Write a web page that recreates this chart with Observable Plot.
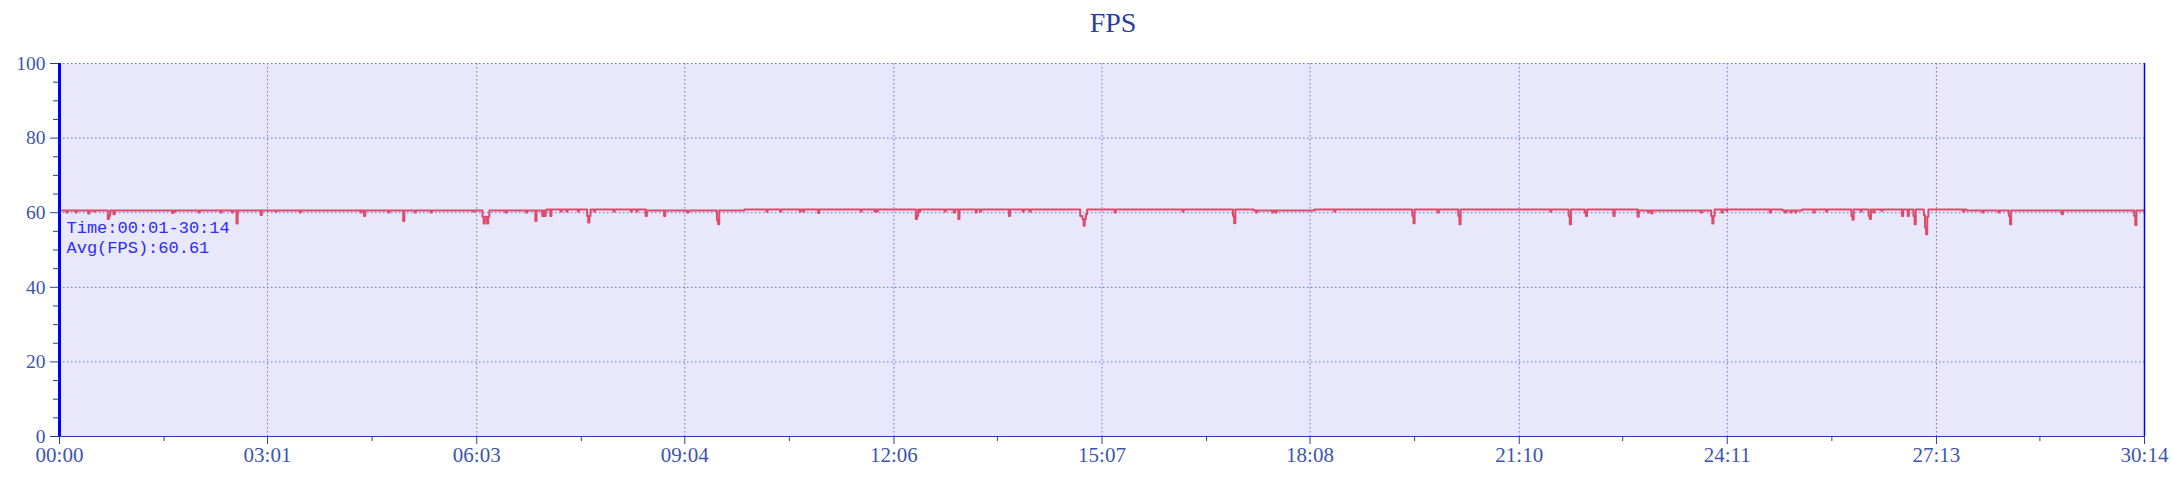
<!DOCTYPE html>
<html>
<head>
<meta charset="utf-8">
<script src="https://cdn.jsdelivr.net/npm/d3@7"></script>
<script src="https://cdn.jsdelivr.net/npm/@observablehq/plot@0.6"></script>
<style>
  body { margin: 0; background: #ffffff; }
  #title {
    width: 2172px; height: 45px; box-sizing: border-box; padding-left: 54px;
    text-align: center; line-height: 45px;
    font-family: "Liberation Serif", "DejaVu Serif", serif; font-size: 28px; color: #2a3f9c;
  }
</style>
</head>
<body>
<div id="title">FPS</div>
<div id="chart"></div>
<script>
// ---- data (seconds since start, FPS) ----
const sec = [
  0, 6, 7, 14, 15, 25, 26, 30, 31, 42, 43, 44, 47, 48, 98, 99, 100, 101, 121, 122,
  140, 141, 150, 151, 154, 155, 175, 176, 188, 189, 209, 210, 262, 263, 265, 266, 286, 287, 299, 300,
  309, 310, 323, 324, 360, 361, 368, 369, 370, 371, 372, 373, 374, 388, 389, 406, 407, 414, 415,
  420, 421, 422, 423, 424, 427, 428, 436, 437, 441, 442, 451, 452, 459, 460, 461, 462, 465, 466,
  482, 483, 497, 498, 502, 503, 510, 511, 526, 527, 546, 547, 548, 572, 573, 574, 596,
  615, 616, 627, 628, 644, 645, 647, 648, 660, 661, 697, 698, 709, 710, 711, 712,
  745, 746, 747, 748, 749, 770, 771, 778, 779, 782, 783, 797, 798, 801, 802, 826, 827,
  838, 839, 844, 845, 888, 889, 890, 891, 892, 893, 894, 918, 919, 977, 978,
  1021, 1022, 1023, 1039, 1041, 1042, 1055, 1056, 1058, 1059, 1092, 1109, 1110,
  1177, 1178, 1179, 1199, 1200, 1217, 1218, 1219, 1297, 1298, 1313, 1314, 1315,
  1327, 1328, 1329, 1352, 1353, 1373, 1374, 1382, 1383, 1385, 1386, 1428, 1429,
  1437, 1438, 1439, 1440, 1446, 1447, 1450, 1451, 1488, 1489, 1499, 1501, 1502,
  1506, 1507, 1510, 1511, 1516, 1526, 1527, 1537, 1538, 1559, 1560, 1561, 1567, 1568,
  1574, 1575, 1576, 1578, 1579, 1585, 1586, 1603, 1604, 1608, 1609, 1613, 1614, 1615,
  1622, 1623, 1624, 1625, 1626, 1656, 1657, 1659, 1673, 1674, 1687, 1688,
  1696, 1697, 1698, 1742, 1743, 1805, 1806, 1807, 1814
];
const fps = [
  60.6, 60.05, 60.6, 60.05, 60.6, 59.8, 60.6, 60.3, 60.6, 58.3, 59.1, 60.6, 59.6, 60.6, 59.9, 60.6, 60.3, 60.6, 60.05, 60.6,
  60.05, 60.6, 60.05, 60.6, 57.1, 60.6, 59.4, 60.6, 60.3, 60.6, 60.05, 60.6, 60.05, 60.6, 59.1, 60.6, 60.05, 60.6, 57.8, 60.6,
  60.05, 60.6, 60.05, 60.6, 60.3, 60.6, 58.9, 57.1, 58.9, 58.9, 57.1, 58.9, 60.6, 60.05, 60.6, 60.05, 60.6, 57.8, 60.6,
  59.1, 60.6, 59.1, 60.6, 60.85, 59.1, 60.85, 60.3, 60.85, 60.3, 60.85, 60.3, 60.85, 59.1, 57.4, 59.1, 60.85, 60.3, 60.85,
  60.3, 60.85, 60.3, 60.85, 60.3, 60.85, 59.1, 60.6, 59.1, 60.6, 60.05, 60.3, 60.6, 58.0, 56.9, 60.6, 60.85,
  60.3, 60.85, 60.3, 60.85, 60.3, 60.85, 60.3, 60.85, 59.9, 60.85, 60.3, 60.85, 60.3, 60.85, 60.3, 60.85,
  58.3, 59.1, 60.85, 60.3, 60.85, 60.3, 60.85, 60.05, 60.85, 58.3, 60.85, 60.05, 60.85, 60.3, 60.85, 59.1, 60.85,
  60.3, 60.85, 60.3, 60.85, 59.1, 59.1, 58.3, 56.5, 58.3, 59.6, 60.85, 60.05, 60.85, 60.3, 60.85,
  59.1, 57.2, 60.85, 60.6, 60.05, 60.6, 60.05, 60.6, 60.05, 60.6, 60.85, 60.3, 60.85,
  59.1, 57.2, 60.85, 60.05, 60.85, 59.1, 56.9, 60.85, 60.3, 60.85, 59.1, 56.9, 60.85,
  60.05, 59.1, 60.85, 59.1, 60.85, 58.9, 60.6, 60.05, 60.6, 59.8, 60.6, 60.05, 60.6,
  59.1, 57.1, 59.1, 60.85, 60.05, 60.85, 60.5, 60.85, 60.05, 60.85, 60.6, 60.05, 60.6,
  60.05, 60.6, 60.05, 60.6, 60.85, 60.05, 60.85, 60.3, 60.85, 59.1, 58.1, 60.85, 60.3, 60.85,
  59.1, 58.3, 60.85, 60.05, 60.85, 60.5, 60.85, 59.1, 60.85, 59.1, 60.85, 59.1, 56.9, 60.85,
  59.4, 56.0, 54.2, 58.9, 60.85, 60.3, 60.85, 60.6, 60.05, 60.6, 60.05, 60.6,
  59.1, 56.9, 60.6, 59.6, 60.6, 59.1, 56.7, 60.6, 60.6
];

const xTickSec = [0, 181, 363, 544, 726, 907, 1088, 1270, 1451, 1633, 1814];
const xTickLabels = ["00:00", "03:01", "06:03", "09:04", "12:06", "15:07", "18:08", "21:10", "24:11", "27:13", "30:14"];
const xMinorSec = [91, 272, 454, 635, 816, 998, 1179, 1360, 1542, 1723];
const yTicks = [0, 20, 40, 60, 80, 100];
const yMinor = [5, 10, 15, 25, 30, 35, 45, 50, 55, 65, 70, 75, 85, 90, 95];
const annotationLines = ["Time:00:01-30:14", "Avg(FPS):60.61"];

const series = sec.map((s, i) => ({sec: s, fps: fps[i]}));
const labelOf = new Map(xTickSec.map((s, i) => [s, xTickLabels[i]]));

const tickColor = "#2b3fa0";
const textColor = "#3d55b0";
const gridColor = "#6a70dc";

const chart = Plot.plot({
  width: 2172,
  height: 446,
  marginLeft: 59,
  marginRight: 28,
  marginTop: 18,
  marginBottom: 55,
  style: {background: "transparent", fontFamily: "Liberation Serif, DejaVu Serif, serif", fontSize: "19px"},
  x: {domain: [0, 1814], label: null},
  y: {domain: [0, 100], label: null},
  marks: [
    Plot.frame({fill: "#e8e8fa", stroke: null}),
    Plot.gridY(yTicks, {stroke: gridColor, strokeOpacity: 1, strokeDasharray: "1.5,2.5"}),
    Plot.gridX(xTickSec, {stroke: gridColor, strokeOpacity: 1, strokeDasharray: "1.5,2.5"}),
    Plot.ruleY([0], {stroke: tickColor, strokeWidth: 1.2}),
    Plot.axisY({ticks: yTicks, tickSize: 9, tickPadding: 5, stroke: tickColor, fill: textColor, fontSize: 19.5, label: null}),
    Plot.axisY({ticks: yMinor, tickSize: 6, stroke: tickColor, fill: "none", label: null}),
    Plot.axisX({ticks: xTickSec, tickFormat: d => labelOf.get(d), tickSize: 8, tickPadding: 3, stroke: tickColor, fill: textColor, fontSize: 21, label: null}),
    Plot.axisX({ticks: xMinorSec, tickSize: 5, stroke: tickColor, fill: "none", label: null}),
    Plot.line(series, {x: "sec", y: "fps", curve: "step-after", stroke: "#de4a6a", strokeWidth: 2}),
    Plot.ruleX([0], {stroke: "#0000ff", strokeWidth: 3}),
    Plot.ruleX([1814], {stroke: "#0000ff", strokeWidth: 1.5}),
    Plot.text([annotationLines.join("\n")], {
      frameAnchor: "top-left", dx: 7, dy: 155, lineAnchor: "top", textAnchor: "start",
      lineHeight: 1.18, fontFamily: "Liberation Mono, DejaVu Sans Mono, monospace", fontSize: 17, fill: "#2b2bff"
    })
  ]
});
document.getElementById("chart").appendChild(chart);
</script>
</body>
</html>
